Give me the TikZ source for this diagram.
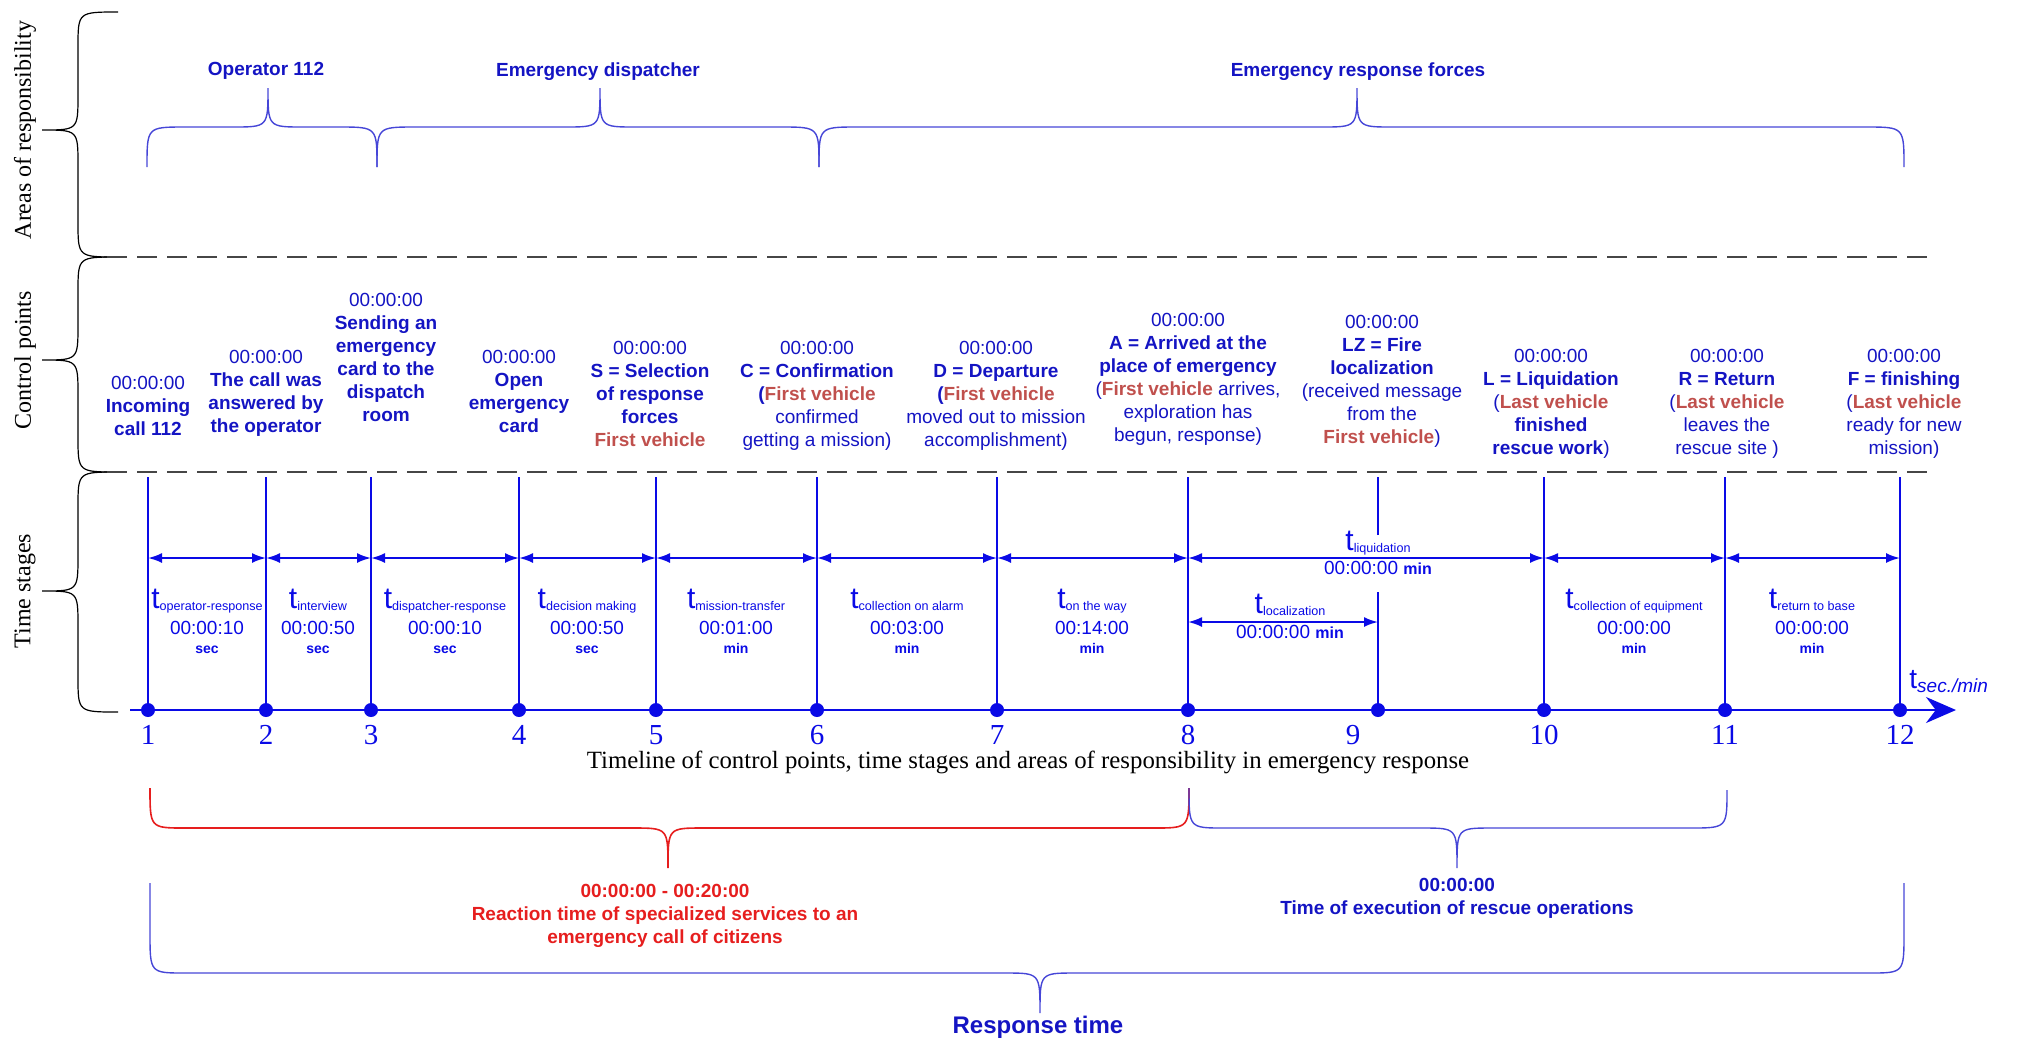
\documentclass[tikz,border=0pt]{standalone}
\usepackage{fontspec}
\setmainfont{Liberation Serif}
\setsansfont{Liberation Sans}
\usepackage{tikz}
\usetikzlibrary{arrows.meta}
\usetikzlibrary{calc}

\definecolor{lineblue}{RGB}{10,10,230}
\definecolor{textblue}{RGB}{20,20,195}
\definecolor{vehred}{RGB}{192,80,77}
\definecolor{bracered}{RGB}{230,30,30}
\definecolor{braceblue}{RGB}{70,70,215}
\definecolor{dashgray}{RGB}{70,70,70}

\newcommand{\tsub}[1]{{\fontsize{15}{15}\selectfont t}\raisebox{-1pt}{\fontsize{6.3}{6.3}\selectfont #1}}
\newcommand{\unit}[1]{{\bfseries\fontsize{7}{7}\selectfont #1}}

\begin{document}
\begin{tikzpicture}[
x=0.5pt, y=-0.5pt,
cptext/.style={
    text=textblue,
    font=\sffamily\fontsize{9.5}{11.5}\selectfont,
    align=center,
    anchor=north,
    inner sep=0pt, % top of first line at the coordinate
},
stagetext/.style={
    text=lineblue,
    font=\sffamily\fontsize{9.5}{9.5}\selectfont,
    align=center,
    anchor=north,
    inner sep=0pt,
},
cpdot/.style={circle, fill=lineblue, inner sep=0pt, minimum size=7pt},
stageline/.style={draw=lineblue, line width=0.7pt},
dimarrow/.style={draw=lineblue, line width=1pt, {Latex[length=7pt,width=5pt]}-{Latex[length=7pt,width=5pt]}},
areabrace/.style={draw=braceblue, line width=0.7pt},
sidebrace/.style={draw=black, line width=0.6pt},
dashsep/.style={draw=dashgray, line width=1pt, dash pattern=on 10pt off 5pt},
arealabel/.style={text=textblue, font=\sffamily\bfseries\fontsize{9.5}{11.5}\selectfont, align=center},
ptnum/.style={text=lineblue, font=\rmfamily\fontsize{14.5}{14.5}\selectfont, anchor=north, inner sep=0pt},
sidelabel/.style={rotate=90, font=\rmfamily\fontsize{12}{12}\selectfont},
]

\useasboundingbox (0,0) rectangle (2018,1041);

% side braces and separators
\draw[sidebrace] (118,12) .. controls (78,12) .. (78,47) -- (78,95) .. controls (78,130) .. (42,130) .. controls (78,130) .. (78,165) -- (78,222) .. controls (78,257) .. (118,257);
\draw[sidebrace] (118,257) .. controls (78,257) .. (78,292) -- (78,325) .. controls (78,360) .. (42,360) .. controls (78,360) .. (78,395) -- (78,437) .. controls (78,472) .. (118,472);
\draw[sidebrace] (118,472) .. controls (78,472) .. (78,507) -- (78,556) .. controls (78,591) .. (42,591) .. controls (78,591) .. (78,626) -- (78,677) .. controls (78,712) .. (118,712);

\node[sidelabel] (areas) at (25,130) {Areas of responsibility};
\node[sidelabel] (ctrl) at (25,360) {Control points};
\node[sidelabel] (stages) at (25,591) {Time stages};

\draw[dashsep] (107,257) -- (1935,257);
\draw[dashsep] (107,472) -- (1935,472);

% areas of responsibility
\draw[areabrace] (147,167) .. controls (147,127) .. (185,127) -- (233,127) .. controls (268,127) .. (268,88) .. controls (268,127) .. (303,127) -- (339,127) .. controls (377,127) .. (377,167);
\draw[areabrace] (377,167) .. controls (377,127) .. (415,127) -- (565,127) .. controls (600,127) .. (600,88) .. controls (600,127) .. (635,127) -- (781,127) .. controls (819,127) .. (819,167);
\draw[areabrace] (819,167) .. controls (819,127) .. (857,127) -- (1322,127) .. controls (1357,127) .. (1357,88) .. controls (1357,127) .. (1392,127) -- (1866,127) .. controls (1904,127) .. (1904,167);

\node[arealabel] (op) at (266,71) {Operator 112};
\node[arealabel] (disp) at (598,72) {Emergency dispatcher};
\node[arealabel] (forces) at (1358,72) {Emergency response forces};

% control points
\node[cptext] (c1) at (148,376) {00:00:00\\ \textbf{Incoming}\\ \textbf{call 112}};
\node[cptext] (c2) at (266,350) {00:00:00\\ \textbf{The call was}\\ \textbf{answered by}\\ \textbf{the operator}};
\node[cptext] (c3) at (386,293) {00:00:00\\ \textbf{Sending an}\\ \textbf{emergency}\\ \textbf{card to the}\\ \textbf{dispatch}\\ \textbf{room}};
\node[cptext] (c4) at (519,350) {00:00:00\\ \textbf{Open}\\ \textbf{emergency}\\ \textbf{card}};
\node[cptext] (c5) at (650,341) {00:00:00\\ \textbf{S = Selection}\\ \textbf{of response}\\ \textbf{forces}\\ \textbf{\textcolor{vehred}{First vehicle}}};
\node[cptext] (c6) at (817,341) {00:00:00\\ \textbf{C = Confirmation}\\ \textbf{(\textcolor{vehred}{First vehicle}}\\ confirmed\\ getting a mission)};
\node[cptext] (c7) at (996,341) {00:00:00\\ \textbf{D = Departure}\\ \textbf{(\textcolor{vehred}{First vehicle}}\\ moved out to mission\\ accomplishment)};
\node[cptext] (c8) at (1188,313) {00:00:00\\ \textbf{A = Arrived at the}\\ \textbf{place of emergency}\\ (\textbf{\textcolor{vehred}{First vehicle}} arrives,\\ exploration has\\ begun, response)};
\node[cptext] (c9) at (1382,315) {00:00:00\\ \textbf{LZ = Fire}\\ \textbf{localization}\\ (received message\\ from the\\ \textbf{\textcolor{vehred}{First vehicle}})};
\node[cptext] (c10) at (1551,349) {00:00:00\\ \textbf{L = Liquidation}\\ (\textbf{\textcolor{vehred}{Last vehicle}}\\ \textbf{finished}\\ \textbf{rescue work})};
\node[cptext] (c11) at (1727,349) {00:00:00\\ \textbf{R = Return}\\ (\textbf{\textcolor{vehred}{Last vehicle}}\\ leaves the\\ rescue site )};
\node[cptext] (c12) at (1904,349) {00:00:00\\ \textbf{F = finishing}\\ (\textbf{\textcolor{vehred}{Last vehicle}}\\ ready for new\\ mission)};

% timeline
\coordinate (tlstart) at (130,710);
\coordinate (tlend) at (1956,710);
\coordinate (cptop) at (0,477);
\coordinate (arrowrow) at (0,558);
\coordinate (locrow) at (0,622);
\coordinate (gapup) at (0,535);
\coordinate (gapdown) at (0,592);

\draw[draw=lineblue, line width=1pt, -{Stealth[length=15pt,width=13pt]}] (tlstart) -- (tlend);

\node[cpdot] (p1) at (148,710) {};
\node[cpdot] (p2) at (266,710) {};
\node[cpdot] (p3) at (371,710) {};
\node[cpdot] (p4) at (519,710) {};
\node[cpdot] (p5) at (656,710) {};
\node[cpdot] (p6) at (817,710) {};
\node[cpdot] (p7) at (997,710) {};
\node[cpdot] (p8) at (1188,710) {};
\node[cpdot] (p9) at (1378,710) {};
\node[cpdot] (p10) at (1544,710) {};
\node[cpdot] (p11) at (1725,710) {};
\node[cpdot] (p12) at (1900,710) {};

\draw[stageline] (p1.center) -- (p1 |- cptop);
\draw[stageline] (p2.center) -- (p2 |- cptop);
\draw[stageline] (p3.center) -- (p3 |- cptop);
\draw[stageline] (p4.center) -- (p4 |- cptop);
\draw[stageline] (p5.center) -- (p5 |- cptop);
\draw[stageline] (p6.center) -- (p6 |- cptop);
\draw[stageline] (p7.center) -- (p7 |- cptop);
\draw[stageline] (p8.center) -- (p8 |- cptop);
\draw[stageline] (p9.center) -- (p9 |- gapdown);
\draw[stageline] (p9 |- gapup) -- (p9 |- cptop);
\draw[stageline] (p10.center) -- (p10 |- cptop);
\draw[stageline] (p11.center) -- (p11 |- cptop);
\draw[stageline] (p12.center) -- (p12 |- cptop);

\draw[dimarrow] (p1 |- arrowrow) -- (p2 |- arrowrow);
\draw[dimarrow] (p2 |- arrowrow) -- (p3 |- arrowrow);
\draw[dimarrow] (p3 |- arrowrow) -- (p4 |- arrowrow);
\draw[dimarrow] (p4 |- arrowrow) -- (p5 |- arrowrow);
\draw[dimarrow] (p5 |- arrowrow) -- (p6 |- arrowrow);
\draw[dimarrow] (p6 |- arrowrow) -- (p7 |- arrowrow);
\draw[dimarrow] (p7 |- arrowrow) -- (p8 |- arrowrow);
\draw[dimarrow] (p8 |- arrowrow) -- (p10 |- arrowrow);
\draw[dimarrow] (p10 |- arrowrow) -- (p11 |- arrowrow);
\draw[dimarrow] (p11 |- arrowrow) -- (p12 |- arrowrow);
\draw[dimarrow] (p8 |- locrow) -- (p9 |- locrow);

% time stages
\node[stagetext] (s1) at (207,589) {\tsub{operator-response}\\[3.5pt] 00:00:10\\ \unit{sec}};
\node[stagetext] (s2) at (318,589) {\tsub{interview}\\[3.5pt] 00:00:50\\ \unit{sec}};
\node[stagetext] (s3) at (445,589) {\tsub{dispatcher-response}\\[3.5pt] 00:00:10\\ \unit{sec}};
\node[stagetext] (s4) at (587,589) {\tsub{decision making}\\[3.5pt] 00:00:50\\ \unit{sec}};
\node[stagetext] (s5) at (736,589) {\tsub{mission-transfer}\\[3.5pt] 00:01:00\\ \unit{min}};
\node[stagetext] (s6) at (907,589) {\tsub{collection on alarm}\\[3.5pt] 00:03:00\\ \unit{min}};
\node[stagetext] (s7) at (1092,589) {\tsub{on the way}\\[3.5pt] 00:14:00\\ \unit{min}};
\node[stagetext] (s10) at (1634,589) {\tsub{collection of equipment}\\[3.5pt] 00:00:00\\ \unit{min}};
\node[stagetext] (s11) at (1812,589) {\tsub{return to base}\\[3.5pt] 00:00:00\\ \unit{min}};
\node[stagetext] (liq) at (1378,531) {\tsub{liquidation}\\[2.5pt] 00:00:00 {\bfseries\fontsize{8}{8}\selectfont min}};
\node[stagetext] (loc) at (1290,594) {\tsub{localization}\\[3pt] 00:00:00 {\bfseries\fontsize{8}{8}\selectfont min}};

\node[text=lineblue, font=\sffamily, anchor=base west, inner sep=0pt] (tunit) at (1909,688) {{\fontsize{14}{14}\selectfont t}\raisebox{-2pt}{\itshape\fontsize{9.5}{9.5}\selectfont sec./min}};

% numbers of control points
\node[ptnum] (n1) at (148,725) {1};
\node[ptnum] (n2) at (266,725) {2};
\node[ptnum] (n3) at (371,725) {3};
\node[ptnum] (n4) at (519,725) {4};
\node[ptnum] (n5) at (656,725) {5};
\node[ptnum] (n6) at (817,725) {6};
\node[ptnum] (n7) at (997,725) {7};
\node[ptnum] (n8) at (1188,725) {8};
\node[ptnum] (n9) at (1353,725) {9};
\node[ptnum] (n10) at (1544,725) {10};
\node[ptnum] (n11) at (1725,725) {11};
\node[ptnum] (n12) at (1900,725) {12};

\node[font=\rmfamily\fontsize{12.4}{12.4}\selectfont] (caption) at (1028,762) {Timeline of control points, time stages and areas of responsibility in emergency response};

% reaction and execution time
\draw[draw=bracered, line width=0.8pt] (150,788) .. controls (150,828) .. (185,828) -- (633,828) .. controls (668,828) .. (668,868) .. controls (668,828) .. (703,828) -- (1154,828) .. controls (1189,828) .. (1189,788);
\draw[areabrace] (1189,788) .. controls (1189,828) .. (1224,828) -- (1422,828) .. controls (1457,828) .. (1457,868) .. controls (1457,828) .. (1492,828) -- (1690,828) .. controls (1727,828) .. (1727,790);

\node[cptext, text=bracered, font=\sffamily\bfseries\fontsize{9.5}{11.5}\selectfont] (react) at (665,884) {00:00:00 - 00:20:00\\ Reaction time of specialized services to an\\ emergency call of citizens};
\node[cptext, font=\sffamily\bfseries\fontsize{9.5}{11.5}\selectfont] (exec) at (1457,878) {00:00:00\\ Time of execution of rescue operations};

% response time
\draw[areabrace] (150,883) -- (150,933) .. controls (150,973) .. (185,973) -- (1005,973) .. controls (1040,973) .. (1040,1013) .. controls (1040,973) .. (1075,973) -- (1869,973) .. controls (1904,973) .. (1904,933) -- (1904,883);

\node[arealabel, font=\sffamily\bfseries\fontsize{12}{14}\selectfont] (resp) at (1038,1027) {Response time};

\end{tikzpicture}
\end{document}
